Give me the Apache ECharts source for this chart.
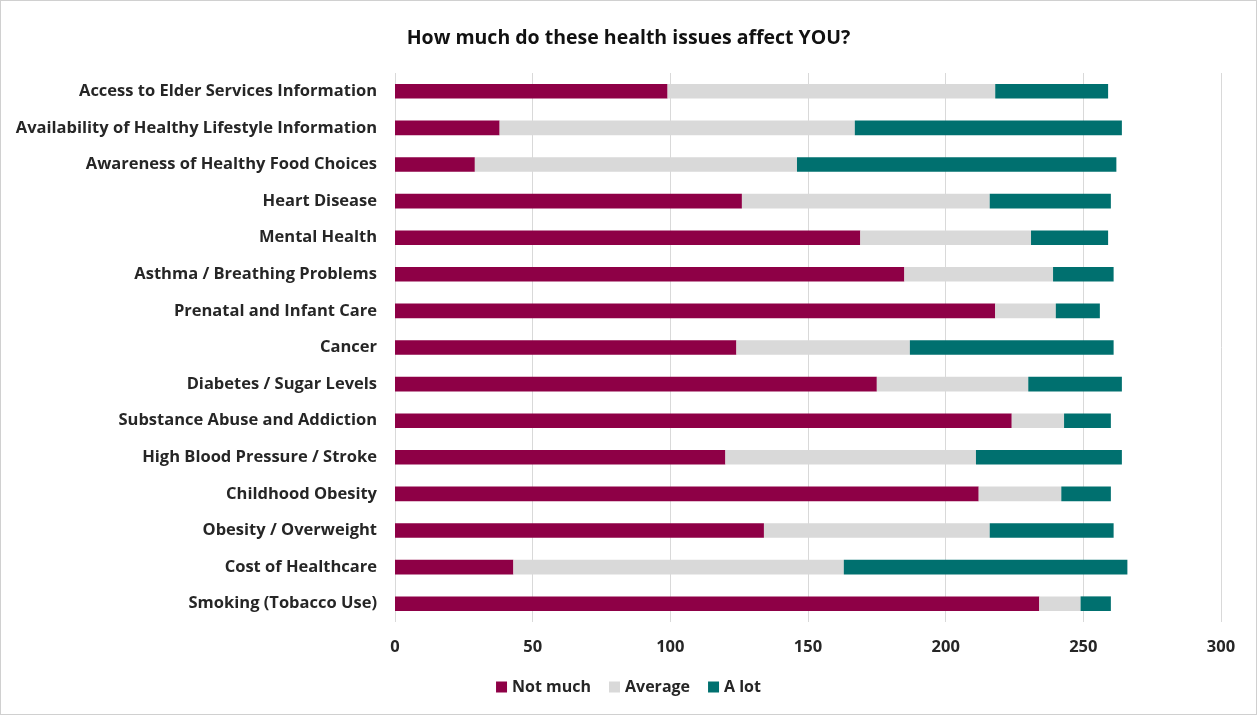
<!DOCTYPE html>
<html>
<head>
<meta charset="utf-8">
<script src="https://cdn.jsdelivr.net/npm/echarts@6/dist/echarts.min.js"></script>
<style>
html,body{margin:0;padding:0;background:#fff;}
#c{width:1255px;height:713px;border:1px solid #d0d0d0;}
</style>
</head>
<body>
<div id="c"></div>
<script>
const categories = [
  "Access to Elder Services Information",
  "Availability of Healthy Lifestyle Information",
  "Awareness of Healthy Food Choices",
  "Heart Disease",
  "Mental Health",
  "Asthma / Breathing Problems",
  "Prenatal and Infant Care",
  "Cancer",
  "Diabetes / Sugar Levels",
  "Substance Abuse and Addiction",
  "High Blood Pressure / Stroke",
  "Childhood Obesity",
  "Obesity / Overweight",
  "Cost of Healthcare",
  "Smoking (Tobacco Use)"
];
const notMuch = [99, 38, 29, 126, 169, 185, 218, 124, 175, 224, 120, 212, 134, 43, 234];
const average = [119, 129, 117, 90, 62, 54, 22, 63, 55, 19, 91, 30, 82, 120, 15];
const aLot    = [41, 97, 116, 44, 28, 22, 16, 74, 34, 17, 53, 18, 45, 103, 11];
const seriesNames = ["Not much", "Average", "A lot"];
const colors = ["#8E0046", "#D9D9D9", "#00706F"];

const chart = echarts.init(document.getElementById('c'));
const font = '"Open Sans", Lato, sans-serif';
chart.setOption({
  animation: false,
  textStyle: {fontFamily: font},
  title: {
    text: "How much do these health issues affect YOU?",
    left: 'center', top: 22,
    textStyle: {fontSize: 19.5, fontWeight: 'bold', color: '#111', fontFamily: font}
  },
  legend: {
    data: seriesNames,
    bottom: 14, left: 'center',
    itemWidth: 11, itemHeight: 11, itemGap: 18,
    icon: 'rect',
    textStyle: {fontSize: 16, fontWeight: 'bold', color: '#262626', fontFamily: font}
  },
  grid: {left: 394, right: 35, top: 72, bottom: 92, containLabel: false},
  xAxis: {
    type: 'value', min: 0, max: 300, interval: 50,
    axisLine: {show: false}, axisTick: {show: false},
    splitLine: {lineStyle: {color: '#D9D9D9', width: 1}},
    axisLabel: {fontSize: 16.5, fontWeight: 'bold', color: '#262626', margin: 17, fontFamily: font}
  },
  yAxis: {
    type: 'category', data: categories, inverse: true,
    axisLine: {show: false}, axisTick: {show: false},
    axisLabel: {fontSize: 16.5, fontWeight: 'bold', color: '#262626', margin: 18, fontFamily: font}
  },
  series: [notMuch, average, aLot].map((d, i) => ({
    name: seriesNames[i], type: 'bar', stack: 'total', data: d,
    barWidth: '40%',
    itemStyle: {color: colors[i]}
  }))
});
</script>
</body>
</html>
